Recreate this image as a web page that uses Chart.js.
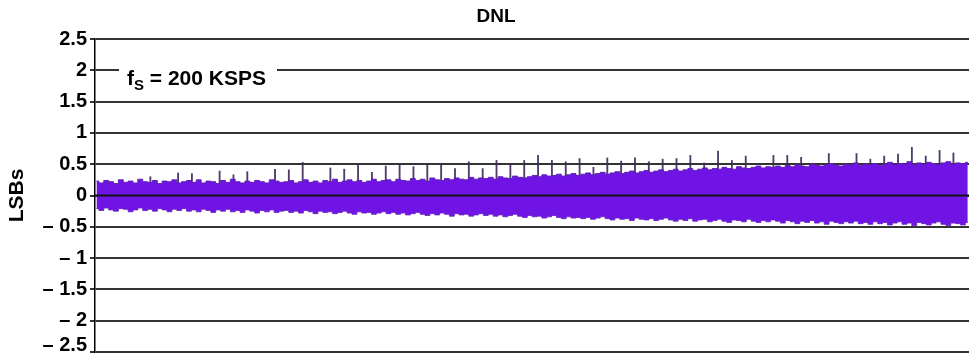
<!DOCTYPE html>
<html lang="en">
<head>
    <meta charset="UTF-8">
    <title>DNL</title>
    <script src="https://cdn.jsdelivr.net/npm/chart.js"></script>
    <style>
        html, body { margin: 0; padding: 0; background: #fff; }
        #wrap { width: 969px; height: 354px; }
    </style>
</head>
<body>
    <div id="wrap"><canvas id="dnl-chart"></canvas></div>

    <script>
        // y axis ticks (LSBs)
        const yTicks = [2.5, 2, 1.5, 1, 0.5, 0, -0.5, -1, -1.5, -2, -2.5];

        // envelope of the DNL band, sampled every 360 codes starting at code 109
        const bandTop = [
            0.23, 0.20, 0.24, 0.22, 0.19, 0.25, 0.21, 0.23, 0.20, 0.26, 0.22, 0.21, 0.24, 0.19, 0.23, 0.22, 0.25, 0.20, 0.22, 0.24,
            0.21, 0.25, 0.20, 0.23, 0.22, 0.19, 0.24, 0.21, 0.26, 0.22, 0.20, 0.23, 0.21, 0.24, 0.22, 0.20, 0.25, 0.23, 0.21, 0.22,
            0.24, 0.20, 0.22, 0.25, 0.21, 0.23, 0.20, 0.24, 0.22, 0.26, 0.21, 0.23, 0.25, 0.22, 0.24, 0.21, 0.23, 0.26, 0.22, 0.24,
            0.25, 0.22, 0.26, 0.24, 0.23, 0.27, 0.24, 0.26, 0.23, 0.28, 0.25, 0.24, 0.27, 0.25, 0.28, 0.26, 0.25, 0.29, 0.26, 0.28,
            0.27, 0.29, 0.26, 0.30, 0.28, 0.27, 0.31, 0.29, 0.28, 0.30, 0.32, 0.30, 0.33, 0.31, 0.32, 0.34, 0.31, 0.33, 0.35, 0.32,
            0.34, 0.36, 0.33, 0.35, 0.37, 0.34, 0.36, 0.38, 0.35, 0.37, 0.39, 0.36, 0.38, 0.40, 0.37, 0.39, 0.41, 0.38, 0.40, 0.42,
            0.39, 0.41, 0.43, 0.40, 0.42, 0.44, 0.41, 0.43, 0.42, 0.45, 0.43, 0.42, 0.46, 0.44, 0.43, 0.45, 0.47, 0.44, 0.46, 0.45,
            0.47, 0.45, 0.48, 0.46, 0.49, 0.47, 0.46, 0.50, 0.48, 0.47, 0.49, 0.51, 0.48, 0.47, 0.50, 0.49, 0.52, 0.48, 0.50, 0.49,
            0.51, 0.48, 0.50, 0.53, 0.49, 0.51, 0.50, 0.54, 0.49, 0.52, 0.50, 0.53, 0.51, 0.49, 0.52, 0.54, 0.50, 0.52, 0.51, 0.53
        ];
        const bandBottom = [
            -0.21, -0.24, -0.20, -0.23, -0.25, -0.21, -0.22, -0.26, -0.23, -0.20, -0.24, -0.22, -0.25, -0.21, -0.23, -0.26, -0.22, -0.24, -0.21, -0.25,
            -0.23, -0.26, -0.22, -0.24, -0.27, -0.23, -0.25, -0.22, -0.26, -0.24, -0.27, -0.23, -0.25, -0.28, -0.24, -0.26, -0.23, -0.27, -0.25, -0.24,
            -0.27, -0.25, -0.28, -0.24, -0.26, -0.29, -0.25, -0.27, -0.26, -0.29, -0.27, -0.25, -0.28, -0.30, -0.26, -0.28, -0.27, -0.30, -0.28, -0.26,
            -0.29, -0.27, -0.30, -0.28, -0.31, -0.29, -0.27, -0.30, -0.32, -0.29, -0.31, -0.28, -0.30, -0.33, -0.29, -0.31, -0.30, -0.33, -0.31, -0.29,
            -0.32, -0.30, -0.33, -0.31, -0.34, -0.32, -0.30, -0.33, -0.35, -0.32, -0.34, -0.33, -0.36, -0.34, -0.32, -0.35, -0.37, -0.34, -0.36, -0.35,
            -0.37, -0.35, -0.38, -0.36, -0.34, -0.37, -0.39, -0.36, -0.38, -0.37, -0.40, -0.36, -0.38, -0.39, -0.37, -0.40, -0.38, -0.36, -0.39, -0.41,
            -0.38, -0.40, -0.37, -0.41, -0.39, -0.38, -0.42, -0.40, -0.38, -0.41, -0.43, -0.39, -0.40, -0.42, -0.38, -0.41, -0.43, -0.40, -0.42, -0.39,
            -0.41, -0.44, -0.40, -0.42, -0.45, -0.41, -0.43, -0.40, -0.44, -0.42, -0.46, -0.41, -0.43, -0.45, -0.42, -0.44, -0.41, -0.45, -0.43, -0.46,
            -0.42, -0.45, -0.43, -0.47, -0.44, -0.42, -0.46, -0.44, -0.48, -0.43, -0.45, -0.47, -0.44, -0.42, -0.46, -0.48, -0.44, -0.45, -0.47, -0.43
        ];
        const bandStart = 109;
        const bandStep = 360;

        // spikes at the major (1024-code) transitions
        const spikeCodes = [
            4096, 6144, 7168, 9216, 10240, 11264, 13312, 14336, 15360, 17408,
            18432, 19456, 20480, 21504, 22528, 23552, 24576, 25600, 26624, 27648,
            28672, 29696, 30720, 31744, 32768, 33792, 34816, 35840, 36864, 37888,
            38912, 39936, 40960, 41984, 43008, 44032, 45056, 46080, 47104, 48128,
            50176, 51200, 52224, 54272, 56320, 57344, 58368, 59392, 60416, 61440,
            62464, 63488
        ];
        const spikeTops = [
            0.30, 0.36, 0.35, 0.39, 0.33, 0.38, 0.42, 0.41, 0.53, 0.44,
            0.42, 0.51, 0.37, 0.47, 0.51, 0.46, 0.49, 0.51, 0.43, 0.54,
            0.43, 0.56, 0.51, 0.56, 0.64, 0.56, 0.54, 0.59, 0.45, 0.60,
            0.55, 0.60, 0.54, 0.58, 0.59, 0.64, 0.52, 0.71, 0.56, 0.63,
            0.64, 0.64, 0.61, 0.67, 0.67, 0.58, 0.63, 0.66, 0.77, 0.63,
            0.72, 0.68
        ];

        const PURPLE = 'rgb(112, 20, 230)';
        const FONT = '"Liberation Sans", Arial, sans-serif';

        function fmtTick(v) {
            if (v === 0) return '0';
            const s = v < 0 ? '\u2013 ' + Math.abs(v) : String(v);
            // bottom label sits a little above its line, as in the original
            return v === -2.5 ? [s, ''] : s;
        }

        // title, fs label and the zero line drawn over the band
        const decor = {
            id: 'decor',
            afterDatasetsDraw(chart) {
                const ctx = chart.ctx;
                const y0 = chart.scales.y.getPixelForValue(0);
                ctx.save();
                ctx.strokeStyle = '#111';
                ctx.lineWidth = 2;
                ctx.beginPath();
                ctx.moveTo(chart.chartArea.left, y0);
                ctx.lineTo(chart.chartArea.right, y0);
                ctx.stroke();
                ctx.restore();
            },
            afterDraw(chart) {
                const ctx = chart.ctx;
                ctx.save();
                ctx.fillStyle = '#000';
                ctx.textBaseline = 'middle';
                ctx.textAlign = 'center';
                ctx.font = 'bold 19px ' + FONT;
                ctx.fillText('DNL', 496, 17);

                ctx.fillStyle = '#fff';
                ctx.fillRect(119, 60, 158, 30);
                ctx.fillStyle = '#000';
                ctx.textAlign = 'left';
                ctx.textBaseline = 'alphabetic';
                let x = 127;
                ctx.font = 'bold 21px ' + FONT;
                ctx.fillText('f', x, 85);
                x += ctx.measureText('f').width;
                ctx.font = 'bold 15px ' + FONT;
                ctx.fillText('S', x, 90);
                x += ctx.measureText('S').width;
                ctx.font = 'bold 21px ' + FONT;
                ctx.fillText(' = 200 KSPS', x, 85);
                ctx.restore();
            }
        };

        const topPts = bandTop.map((v, i) => ({ x: bandStart + i * bandStep, y: v }));
        const botPts = bandBottom.map((v, i) => ({ x: bandStart + i * bandStep, y: v }));
        const spikePts = spikeCodes.map((c, i) => ({ x: c, y: [0, spikeTops[i]] }));

        new Chart(document.getElementById('dnl-chart'), {
            type: 'line',
            data: {
                datasets: [
                    {
                        label: 'DNL high',
                        data: topPts,
                        borderColor: 'rgb(95, 30, 180)',
                        borderWidth: 1,
                        backgroundColor: PURPLE,
                        fill: '+1',
                        stepped: 'middle',
                        pointRadius: 0,
                        order: 1
                    },
                    {
                        label: 'DNL low',
                        data: botPts,
                        borderColor: 'rgb(115, 70, 170)',
                        borderWidth: 1,
                        fill: false,
                        stepped: 'middle',
                        pointRadius: 0,
                        order: 1
                    },
                    {
                        type: 'bar',
                        label: 'spikes',
                        data: spikePts,
                        backgroundColor: 'rgba(60, 40, 90, 0.9)',
                        barThickness: 1.2,
                        order: 2
                    }
                ]
            },
            plugins: [decor],
            options: {
                responsive: true,
                maintainAspectRatio: false,
                animation: false,
                layout: { padding: { top: 39, bottom: 2, left: 0, right: 0 } },
                plugins: {
                    legend: { display: false },
                    tooltip: { enabled: false }
                },
                scales: {
                    x: {
                        type: 'linear',
                        min: 0,
                        max: 64640,
                        offset: false,
                        display: false
                    },
                    y: {
                        min: -2.5,
                        max: 2.5,
                        afterFit: (s) => {
                            s.width = 95;
                            s.paddingTop = 0;
                            s.paddingBottom = 0;
                        },
                        afterBuildTicks: (s) => { s.ticks = yTicks.map(v => ({ value: v })); },
                        ticks: {
                            color: '#000',
                            padding: 3,
                            font: (c) => ({
                                family: FONT,
                                size: 20,
                                weight: 'bold',
                                lineHeight: c.tick && c.tick.value === -2.5 ? '14px' : 1.2
                            }),
                            callback: fmtTick
                        },
                        grid: {
                            color: '#333',
                            lineWidth: 2,
                            tickLength: 5
                        },
                        border: { display: true, color: '#000', width: 1.5 },
                        title: {
                            display: true,
                            text: 'LSBs',
                            color: '#000',
                            padding: { top: 5, bottom: 0 },
                            font: { family: FONT, size: 21, weight: 'bold' }
                        }
                    }
                }
            }
        });
    </script>
</body>
</html>
